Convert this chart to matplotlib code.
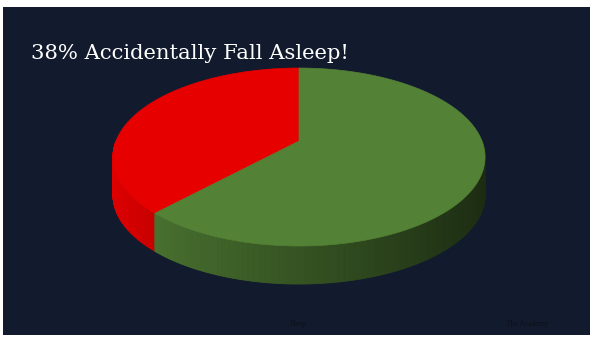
import numpy as np
import matplotlib
matplotlib.use("Agg")
import matplotlib.pyplot as plt
from matplotlib.patches import Rectangle, Polygon
from matplotlib.collections import PolyCollection
from matplotlib.colors import to_rgb

# ---- data ----
title = "38% Accidentally Fall Asleep!"
categories = ["Accidentally fall asleep", "Stay awake"]
values = [38, 62]
colors = ["#e60000", "#538135"]
footer_left = "Sleep"
footer_right = "The Academy"

# ---- figure ----
W, H = 591, 337
fig = plt.figure(figsize=(W / 100, H / 100), dpi=100, facecolor="white")
ax = fig.add_axes([0, 0, 1, 1])
ax.set_xlim(0, W)
ax.set_ylim(H, 0)
ax.axis("off")

bg = "#121b2e"
ax.add_patch(Rectangle((3, 7), 587, 328, facecolor=bg, edgecolor="none", zorder=0))

# ---- perspective 3D pie ----
cx, cy = 299, 141       # apex (projected circle centre)
s, t, k = 183, 86.1, 0.18
depth = 38

def proj(theta):
    u, v = np.cos(theta), np.sin(theta)
    return cx + s * u / (1 + k * v), cy - t * v / (1 + k * v)

fracs = np.array(values, dtype=float) / np.sum(values)
starts = np.deg2rad(90) + 2 * np.pi * np.concatenate([[0], np.cumsum(fracs)[:-1]])
ends = starts + 2 * np.pi * fracs

def wedge_index(theta):
    for i, (a, b) in enumerate(zip(starts, ends)):
        th = theta
        while th < a:
            th += 2 * np.pi
        if a <= th <= b:
            return i
    return len(values) - 1

# side (near half)
n = 400
ths = np.linspace(np.pi, 2 * np.pi, n + 1)
polys, fcols, order = [], [], []
for i in range(n):
    a, b = ths[i], ths[i + 1]
    m = 0.5 * (a + b)
    x1, y1 = proj(a)
    x2, y2 = proj(b)
    polys.append([(x1, y1), (x2, y2), (x2, y2 + depth), (x1, y1 + depth)])
    base = np.array(to_rgb(colors[wedge_index(m)]))
    f = np.clip(0.65 - 0.33 * np.cos(m), 0.3, 1.0)
    fcols.append(tuple(base * f))
    order.append(-np.sin(m))
idx = np.argsort(order)
pc = PolyCollection([polys[i] for i in idx], facecolors=[fcols[i] for i in idx],
                    edgecolors=[fcols[i] for i in idx], linewidths=0.6, zorder=2)
ax.add_collection(pc)

# top face
for a, b, c in zip(starts, ends, colors):
    th = np.linspace(a, b, 300)
    xs, ys = proj(th)
    pts = [(cx, cy)] + list(zip(xs, ys))
    ax.add_patch(Polygon(pts, closed=True, facecolor=c, edgecolor=c, linewidth=0.5, zorder=3))

# ---- texts ----
ax.text(31, 59, title, color="white", fontsize=15.2, family="DejaVu Serif",
        ha="left", va="baseline", zorder=5)
ax.text(298, 324, footer_left, color="#0b0f17", fontsize=5.5, family="Liberation Serif",
        ha="center", va="center", zorder=5)
ax.text(527, 324, footer_right, color="#0b0f17", fontsize=5.5, family="Liberation Serif",
        ha="center", va="center", zorder=5)

fig.savefig("out.png", dpi=100, facecolor="white")
